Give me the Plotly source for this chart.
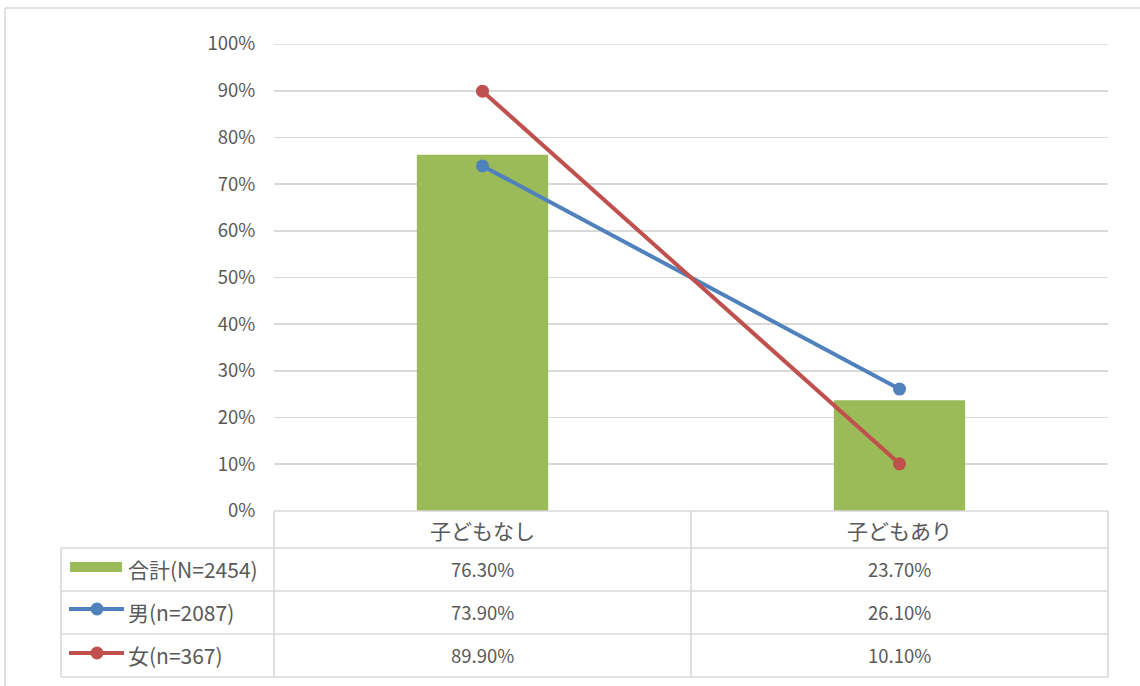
import plotly.graph_objects as go

categories = ["子どもなし", "子どもあり"]
total_vals = [76.3, 23.7]
male_vals = [73.9, 26.1]
female_vals = [89.9, 10.1]
series_names = ["合計(N=2454)", "男(n=2087)", "女(n=367)"]
yticks = list(range(0, 101, 10))

GREEN = "#9BBB59"
BLUE = "#4F81BD"
RED = "#C0504D"
GRID = "#D9D9D9"
TXT = "#595959"
FONT = "Noto Sans CJK JP"

W, H = 1140, 686
L, R, T, B = 274, 1108, 44, 511


def px(x):
    return (x - L) / (R - L)


def py(y):
    return (B - y) / (B - T)


fig = go.Figure()
fig.add_trace(go.Bar(x=[0, 1], y=total_vals, marker=dict(color=GREEN, line=dict(width=0)),
                     width=0.315, name=series_names[0]))
fig.add_trace(go.Scatter(x=[0, 1], y=male_vals, mode="lines+markers",
                         line=dict(color=BLUE, width=4), marker=dict(size=13, color=BLUE),
                         name=series_names[1]))
fig.add_trace(go.Scatter(x=[0, 1], y=female_vals, mode="lines+markers",
                         line=dict(color=RED, width=4), marker=dict(size=13, color=RED),
                         name=series_names[2]))

shapes = []
line = dict(color=GRID, width=1.6)
# top gridline (at the range edge, not drawn by plotly)
shapes.append(dict(type="line", xref="paper", yref="y", x0=0, x1=1, y0=yticks[-1], y1=yticks[-1], line=line,
                   layer="below"))
# outer border (top and left)
shapes.append(dict(type="line", xref="paper", yref="paper", x0=px(5), x1=px(1140), y0=py(8), y1=py(8), line=line))
shapes.append(dict(type="line", xref="paper", yref="paper", x0=px(5), x1=px(5), y0=py(8), y1=py(686), line=line))
# table horizontal lines
row_y = [511, 548, 591, 634, 677]
for i, yy in enumerate(row_y):
    x0 = L if i == 0 else 61
    shapes.append(dict(type="line", xref="paper", yref="paper", x0=px(x0), x1=px(R), y0=py(yy), y1=py(yy), line=line))
# table vertical lines
for xx in [L, 691, R]:
    shapes.append(dict(type="line", xref="paper", yref="paper", x0=px(xx), x1=px(xx), y0=py(511), y1=py(677), line=line))
shapes.append(dict(type="line", xref="paper", yref="paper", x0=px(61), x1=px(61), y0=py(548), y1=py(677), line=line))

# legend keys
shapes.append(dict(type="rect", xref="paper", yref="paper", x0=px(70), x1=px(122), y0=py(562), y1=py(572),
                   fillcolor=GREEN, line=dict(width=0)))
for yy, col in [(609, BLUE), (653, RED)]:
    shapes.append(dict(type="line", xref="paper", yref="paper", x0=px(69), x1=px(124), y0=py(yy), y1=py(yy),
                       line=dict(color=col, width=4)))
    shapes.append(dict(type="circle", xref="paper", yref="paper", x0=px(90.5), x1=px(103.5), y0=py(yy - 6.5),
                       y1=py(yy + 6.5), fillcolor=col, line=dict(width=0)))

annotations = []
for i, c in enumerate(categories):
    annotations.append(dict(x=i, xref="x", y=py(530), yref="paper", text=c, showarrow=False,
                            font=dict(family=FONT, size=21, color=TXT), xanchor="center", yanchor="middle"))
row_centers = [569, 612, 655]
for name, vals, yc in zip(series_names, [total_vals, male_vals, female_vals], row_centers):
    annotations.append(dict(x=px(126), xref="paper", y=py(yc), yref="paper", text=name, showarrow=False,
                            font=dict(family=FONT, size=21, color=TXT), xanchor="left", yanchor="middle"))
    for i, v in enumerate(vals):
        annotations.append(dict(x=i, xref="x", y=py(yc), yref="paper", text=f"{v:.2f}%", showarrow=False,
                                font=dict(family=FONT, size=18.5, color=TXT), xanchor="center", yanchor="middle"))

fig.update_layout(
    width=W, height=H,
    margin=dict(l=L, r=W - R, t=T, b=H - B, pad=0),
    paper_bgcolor="white", plot_bgcolor="white",
    showlegend=False,
    shapes=shapes, annotations=annotations,
    xaxis=dict(range=[-0.5, 1.5], showticklabels=False, showgrid=False, zeroline=False, showline=False,
               fixedrange=True),
    yaxis=dict(range=[0, 100], tickvals=yticks, ticktext=[f"{t}%" for t in yticks], showgrid=True,
               gridcolor=GRID, gridwidth=1.6, zeroline=False, showline=False, ticks="outside", ticklen=14,
               tickcolor="rgba(0,0,0,0)", tickfont=dict(family=FONT, size=18.5, color=TXT), fixedrange=True),
    font=dict(family=FONT, color=TXT),
)

fig.write_html("out.html", config={"displayModeBar": False, "staticPlot": True},
               post_script="document.body.style.margin='0';document.body.style.overflow='hidden';")
